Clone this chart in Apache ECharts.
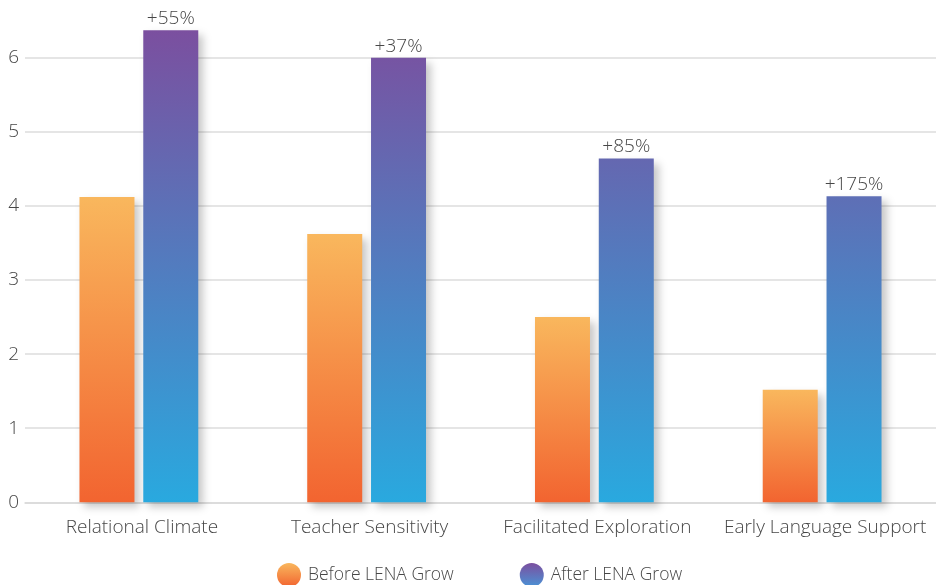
<!DOCTYPE html>
<html>
<head>
<meta charset="utf-8">
<script src="https://cdn.jsdelivr.net/npm/echarts@6/dist/echarts.min.js"></script>
<style>
  html, body { margin: 0; padding: 0; background: #ffffff; }
  #chart { width: 936px; height: 585px; }
</style>
</head>
<body>
<div id="chart"></div>
<script>
// CLASS domain scores before and after the LENA Grow program
const categories = ['Relational Climate', 'Teacher Sensitivity', 'Facilitated Exploration', 'Early Language Support'];
const beforeValues = [4.12, 3.62, 2.50, 1.52];
const afterValues = [6.37, 6.00, 4.64, 4.13];
const changeLabels = ['+55%', '+37%', '+85%', '+175%'];
const seriesNames = ['Before LENA Grow', 'After LENA Grow'];

const FONT = '"Open Sans", "Noto Sans", sans-serif';
const TEXT = '#474747';

// Orange fades within each bar; the after-series gradient spans the plot height.
function vGrad(top, bottom) {
  return new echarts.graphic.LinearGradient(0, 0, 0, 1, [
    { offset: 0, color: top },
    { offset: 1, color: bottom }
  ]);
}
const afterFill = new echarts.graphic.LinearGradient(0, 30, 0, 502, [
  { offset: 0, color: '#7b4f9f' },
  { offset: 1, color: '#29a9df' }
], true);

const barShadow = {
  shadowBlur: 8,
  shadowOffsetX: 5,
  shadowOffsetY: 5,
  shadowColor: 'rgba(0,0,0,0.22)'
};

const chart = echarts.init(document.getElementById('chart'), null, { renderer: 'canvas' });

chart.setOption({
  animation: false,
  backgroundColor: '#ffffff',
  grid: { left: 25, right: 0, top: 20.7, bottom: 82.7 },
  legend: {
    bottom: -7,
    left: 272,
    icon: 'circle',
    itemWidth: 24,
    itemHeight: 24,
    itemGap: 66,
    textStyle: { fontFamily: FONT, fontSize: 17.5, fontWeight: 300, color: TEXT, padding: [0, 0, 0, 2] },
    data: [
      { name: seriesNames[0], itemStyle: { color: vGrad('#f9b75d', '#f26430') } },
      { name: seriesNames[1], itemStyle: { color: vGrad('#7b4f9f', '#4a93d6') } }
    ]
  },
  xAxis: {
    type: 'category',
    data: categories,
    boundaryGap: true,
    axisLine: { show: true, lineStyle: { color: '#d9d9d9', width: 1.5 } },
    axisTick: { show: false },
    axisLabel: {
      interval: 0, fontFamily: FONT, fontSize: 19, fontWeight: 300, color: TEXT,
      margin: 16, padding: [0, 0, 0, 6]
    }
  },
  yAxis: {
    type: 'value',
    min: 0,
    max: 6.5,
    interval: 1,
    axisLine: { show: false },
    axisTick: { show: false },
    axisLabel: {
      fontFamily: FONT, fontSize: 19, fontWeight: 300, color: TEXT, margin: 6,
      showMaxLabel: false,
      formatter: v => (Number.isInteger(v) ? String(v) : '')
    },
    splitLine: {
      show: true,
      lineStyle: {
        color: ['#dcdcdc', '#dcdcdc', '#dcdcdc', '#dcdcdc', '#dcdcdc', '#dcdcdc', '#dcdcdc', 'rgba(0,0,0,0)'],
        width: 1.5
      }
    }
  },
  series: [
    {
      name: seriesNames[0],
      type: 'bar',
      data: beforeValues,
      barWidth: 55,
      barGap: '16%',
      itemStyle: Object.assign({ color: vGrad('#f9b75d', '#f26430') }, barShadow)
    },
    {
      name: seriesNames[1],
      type: 'bar',
      data: afterValues,
      barWidth: 55,
      itemStyle: Object.assign({ color: afterFill }, barShadow),
      label: {
        show: true,
        position: 'top',
        distance: 2,
        fontFamily: FONT,
        fontSize: 19,
        fontWeight: 300,
        color: TEXT,
        formatter: p => changeLabels[p.dataIndex]
      }
    }
  ]
});
</script>
</body>
</html>
